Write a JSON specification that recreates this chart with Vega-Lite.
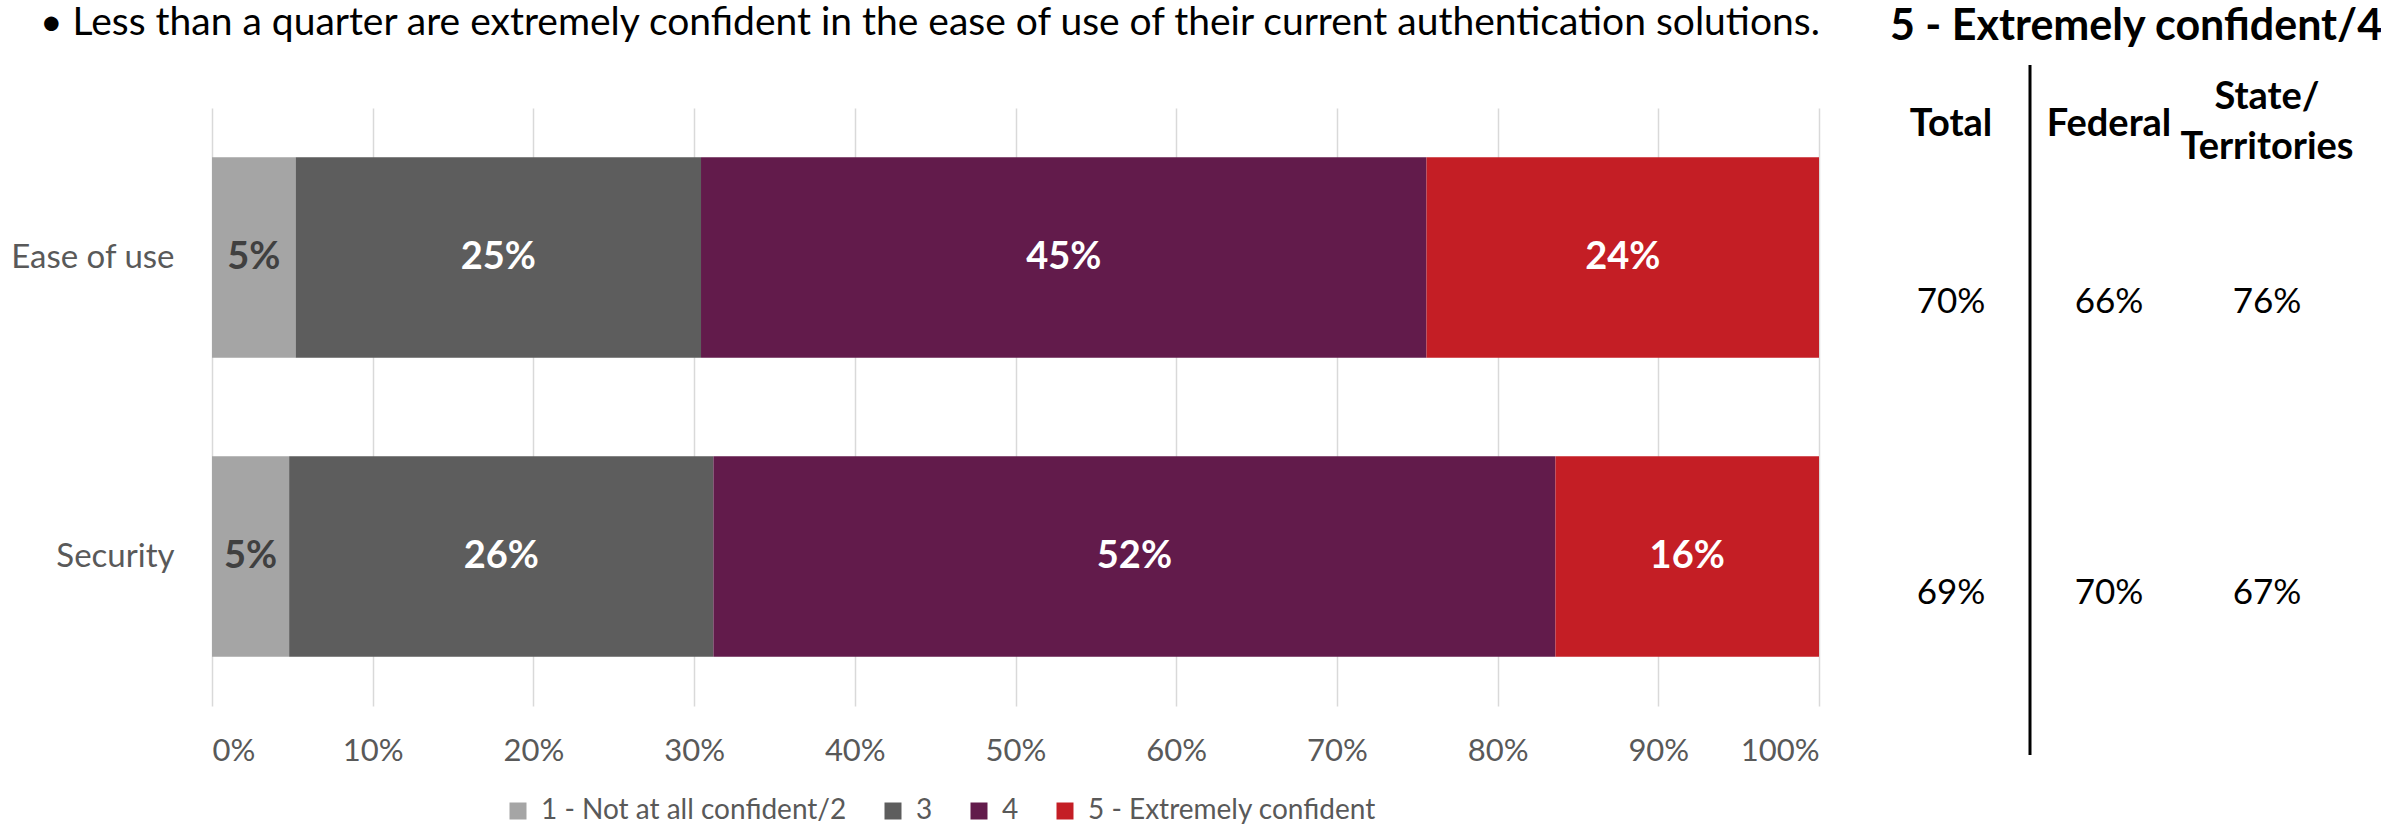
{
  "$schema": "https://vega.github.io/schema/vega-lite/v6.json",
  "padding": {"left": 10, "top": 4, "right": 0, "bottom": 0},
  "background": "white",
  "config": {"view": {"stroke": null}, "font": "Lato"},
  "spacing": 48,
  "resolve": {"scale": {"x": "independent", "y": "independent", "color": "independent"}},
  "datasets": {
    "bars": [
      {"aspect": "Ease of use", "level": "1 - Not at all confident/2", "share": 0.052},
      {"aspect": "Ease of use", "level": "3", "share": 0.252},
      {"aspect": "Ease of use", "level": "4", "share": 0.451},
      {"aspect": "Ease of use", "level": "5 - Extremely confident", "share": 0.244},
      {"aspect": "Security", "level": "1 - Not at all confident/2", "share": 0.048},
      {"aspect": "Security", "level": "3", "share": 0.264},
      {"aspect": "Security", "level": "4", "share": 0.524},
      {"aspect": "Security", "level": "5 - Extremely confident", "share": 0.164}
    ],
    "table": [
      {"aspect": "Ease of use", "group": "Total", "value": "70%"},
      {"aspect": "Ease of use", "group": "Federal", "value": "66%"},
      {"aspect": "Ease of use", "group": "State/Territories", "value": "76%"},
      {"aspect": "Security", "group": "Total", "value": "69%"},
      {"aspect": "Security", "group": "Federal", "value": "70%"},
      {"aspect": "Security", "group": "State/Territories", "value": "67%"}
    ]
  },
  "hconcat": [
    {
      "width": 1607,
      "height": 598,
      "title": {"text": "• Less than a quarter are extremely confident in the ease of use of their current authentication solutions.", "anchor": "start", "frame": "group", "dx": -172, "offset": 65, "fontSize": 39, "fontWeight": "normal", "color": "#000000", "font": "Lato"},
      "data": {"name": "bars"},
      "encoding": {
        "y": {"field": "aspect", "type": "nominal", "sort": ["Ease of use", "Security"], "scale": {"paddingInner": 0.33, "paddingOuter": 0.165}, "axis": {"title": null, "ticks": false, "domain": false, "labelFontSize": 33, "labelColor": "#595959", "labelPadding": 38, "labelFont": "Lato"}}
      },
      "layer": [
        {
          "mark": {"type": "bar"},
          "encoding": {
            "x": {"field": "share", "type": "quantitative", "stack": "normalize", "scale": {"domain": [0, 1]}, "axis": {"title": null, "values": [0, 0.1, 0.2, 0.3, 0.4, 0.5, 0.6, 0.7, 0.8, 0.9, 1], "format": ".0%", "grid": true, "gridColor": "#D9D9D9", "gridWidth": 1.5, "domain": false, "ticks": false, "labelFontSize": 31, "labelColor": "#595959", "labelPadding": 30, "labelFont": "Lato"}},
            "order": {"field": "level", "sort": "ascending"},
            "color": {"field": "level", "type": "nominal", "scale": {"domain": ["1 - Not at all confident/2", "3", "4", "5 - Extremely confident"], "range": ["#A5A5A5", "#5D5D5D", "#621B4B", "#C41E25"]}, "legend": {"title": null, "orient": "none", "legendX": 292, "legendY": 689, "direction": "horizontal", "symbolType": "square", "symbolSize": 289, "symbolStrokeWidth": 0, "labelFontSize": 28, "labelLimit": 0, "labelColor": "#595959", "labelFont": "Lato", "columnPadding": 32, "labelOffset": 9}}
          }
        },
        {
          "mark": {"type": "text", "fontSize": 38, "fontWeight": "bold", "font": "Lato"},
          "encoding": {
            "x": {"field": "share", "type": "quantitative", "stack": "normalize", "bandPosition": 0.5},
            "detail": {"field": "level"},
            "order": {"field": "level", "sort": "ascending"},
            "text": {"field": "share", "format": ".0%"},
            "color": {"condition": {"test": "datum.level === '1 - Not at all confident/2'", "value": "#404040"}, "value": "#FFFFFF"}
          }
        }
      ]
    },
    {
      "width": 474,
      "height": 598,
      "title": {"text": "5 - Extremely confident/4", "fontSize": 43, "fontWeight": "bold", "anchor": "middle", "dx": 27, "offset": 15, "color": "#000000", "font": "Lato"},
      "data": {"name": "table"},
      "encoding": {
        "x": {"field": "group", "type": "nominal", "sort": ["Total", "Federal", "State/Territories"], "scale": {"type": "band", "paddingInner": 0, "paddingOuter": 0}, "axis": {"orient": "top", "title": null, "ticks": false, "tickSize": 0, "domain": false, "labelAngle": 0, "labelFontSize": 38, "labelFontWeight": "bold", "labelColor": "#000000", "labelFont": "Lato", "labelLimit": 0, "labelPadding": {"condition": {"test": "datum.value === 'State/Territories'", "value": 11}, "value": -16}, "labelBaseline": "middle", "labelLineHeight": 50, "labelExpr": "datum.value === 'State/Territories' ? ['State/', 'Territories'] : datum.label"}}
      },
      "layer": [
        {
          "data": {"values": [{}]},
          "mark": {"type": "rule", "color": "#000000", "strokeWidth": 3, "yOffset": -43, "y2Offset": 49},
          "encoding": {"x": {"datum": "Federal", "bandPosition": 0}, "y": {"value": 0}, "y2": {"value": {"expr": "height"}}}
        },
        {
          "mark": {"type": "text", "fontSize": 35, "color": "#000000", "font": "Lato"},
          "encoding": {
            "y": {"field": "aspect", "type": "nominal", "sort": ["Ease of use", "Security"], "scale": {"type": "point", "padding": 0.527, "align": 0.632}, "axis": null},
            "text": {"field": "value"}
          }
        }
      ]
    }
  ]
}
